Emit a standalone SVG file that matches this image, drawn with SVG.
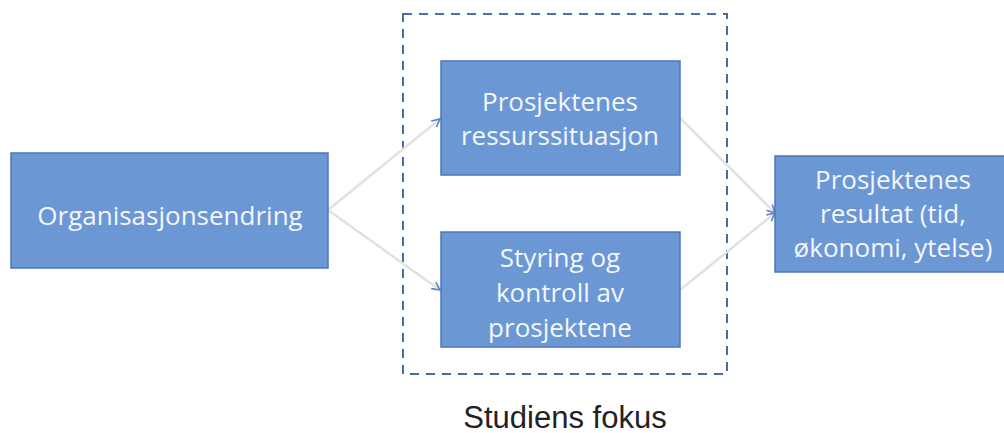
<svg xmlns="http://www.w3.org/2000/svg" width="1004" height="433" viewBox="0 0 1004 433">
  <style>
    .box { fill: #6b97d5; stroke: #4d76b6; stroke-width: 1.5; }
    .lbl { font-family: "Open Sans", "Noto Sans", sans-serif; font-size: 26px; fill: #f3f6fb; text-anchor: middle; }
    .conn { stroke: #e1e1e1; stroke-width: 2.5; fill: none; marker-end: url(#arr); }
    .focus { fill: none; stroke: #4b6ba6; stroke-width: 2; stroke-dasharray: 9 7; }
    .cap { font-family: "Liberation Sans", Arial, sans-serif; font-size: 31px; fill: #222222; text-anchor: middle; }
  </style>
  <defs>
    <marker id="arr" markerUnits="userSpaceOnUse" markerWidth="12" markerHeight="12" refX="9" refY="5" orient="auto">
      <path d="M1,1 L9,5 L1,9" fill="none" stroke="#5a82c6" stroke-width="1.6"/>
    </marker>
  </defs>
  <rect width="1004" height="433" fill="#ffffff"/>

  <g id="focus-area">
    <rect class="focus" x="403" y="14" width="324" height="360"/>
    <text class="cap" x="565" y="428">Studiens fokus</text>
  </g>

  <g id="connectors">
    <line class="conn" x1="328" y1="210" x2="440" y2="119"/>
    <line class="conn" x1="328" y1="210" x2="440" y2="290"/>
    <line class="conn" x1="680" y1="118" x2="775" y2="213"/>
    <line class="conn" x1="680" y1="290" x2="775" y2="213"/>
  </g>

  <g id="node-org">
    <rect class="box" x="11" y="153" width="317" height="115"/>
    <text class="lbl" x="170" y="225">Organisasjonsendring</text>
  </g>

  <g id="node-ressurs">
    <rect class="box" x="441" y="61" width="239" height="114"/>
    <text class="lbl" x="560" y="111">Prosjektenes</text>
    <text class="lbl" x="560" y="145">ressurssituasjon</text>
  </g>

  <g id="node-styring">
    <rect class="box" x="441" y="232" width="239" height="115"/>
    <text class="lbl" x="560" y="267">Styring og</text>
    <text class="lbl" x="560" y="302">kontroll av</text>
    <text class="lbl" x="560" y="337">prosjektene</text>
  </g>

  <g id="node-resultat">
    <rect class="box" x="775" y="156" width="240" height="116"/>
    <text class="lbl" x="893" y="189">Prosjektenes</text>
    <text class="lbl" x="893" y="223">resultat (tid,</text>
    <text class="lbl" x="893" y="257">økonomi, ytelse)</text>
  </g>
</svg>
